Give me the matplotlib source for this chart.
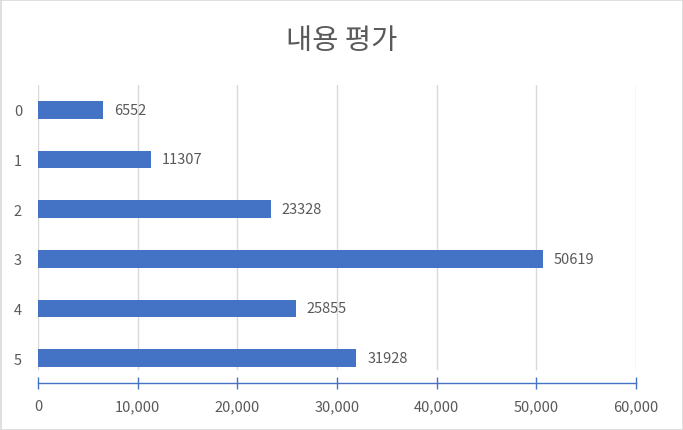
import matplotlib
matplotlib.use("Agg")
import matplotlib.pyplot as plt
from matplotlib.ticker import FuncFormatter
from matplotlib.patches import Rectangle

plt.rcParams['font.family'] = ['Noto Sans CJK KR', 'DejaVu Sans']

categories = ['0', '1', '2', '3', '4', '5']
values = [6552, 11307, 23328, 50619, 25855, 31928]
title = '내용 평가'
x_ticks = [0, 10000, 20000, 30000, 40000, 50000, 60000]

bar_color = '#4472C4'
text_color = '#595959'
grid_color = '#D9D9D9'

fig = plt.figure(figsize=(6.83, 4.31), dpi=100)
ax = fig.add_axes([38/683, 47/431, (636-38)/683, (384-86)/431])

ypos = list(range(len(categories)))
ax.barh(ypos, values, height=0.355, color=bar_color, zorder=3)
ax.set_ylim(len(categories) - 0.5, -0.5)
ax.set_xlim(x_ticks[0], x_ticks[-1])

for x in x_ticks:
    ax.axvline(x, ymin=0.047, ymax=1, color=grid_color, lw=1.0, zorder=1)

for y, v in zip(ypos, values):
    ax.annotate(str(v), (v, y), xytext=(8, 0), textcoords='offset points',
                ha='left', va='center', fontsize=10.5, color=text_color)

for s in ['top', 'right', 'left']:
    ax.spines[s].set_visible(False)
ax.spines['bottom'].set_color(bar_color)
ax.spines['bottom'].set_linewidth(1.0)

ax.set_xticks(x_ticks)
ax.xaxis.set_major_formatter(FuncFormatter(lambda v, p: f'{int(v):,}'))
ax.tick_params(axis='x', direction='inout', length=8, width=1.0, color=bar_color,
               labelsize=10.5, labelcolor=text_color, pad=7.5)
ax.set_yticks(ypos)
ax.set_yticklabels(categories)
ax.tick_params(axis='y', length=0, labelsize=10.5, labelcolor=text_color, pad=11.5)

fig.text(341.5/683, 1 - 41/431, title, ha='center', va='center', fontsize=20.5, color=text_color)

fig.patches.append(Rectangle((0.5/683, 0.5/431), 682/683, 430/431, transform=fig.transFigure,
                             fill=False, edgecolor=grid_color, lw=1.2, figure=fig))

fig.savefig('out.png', dpi=100, facecolor='white')
